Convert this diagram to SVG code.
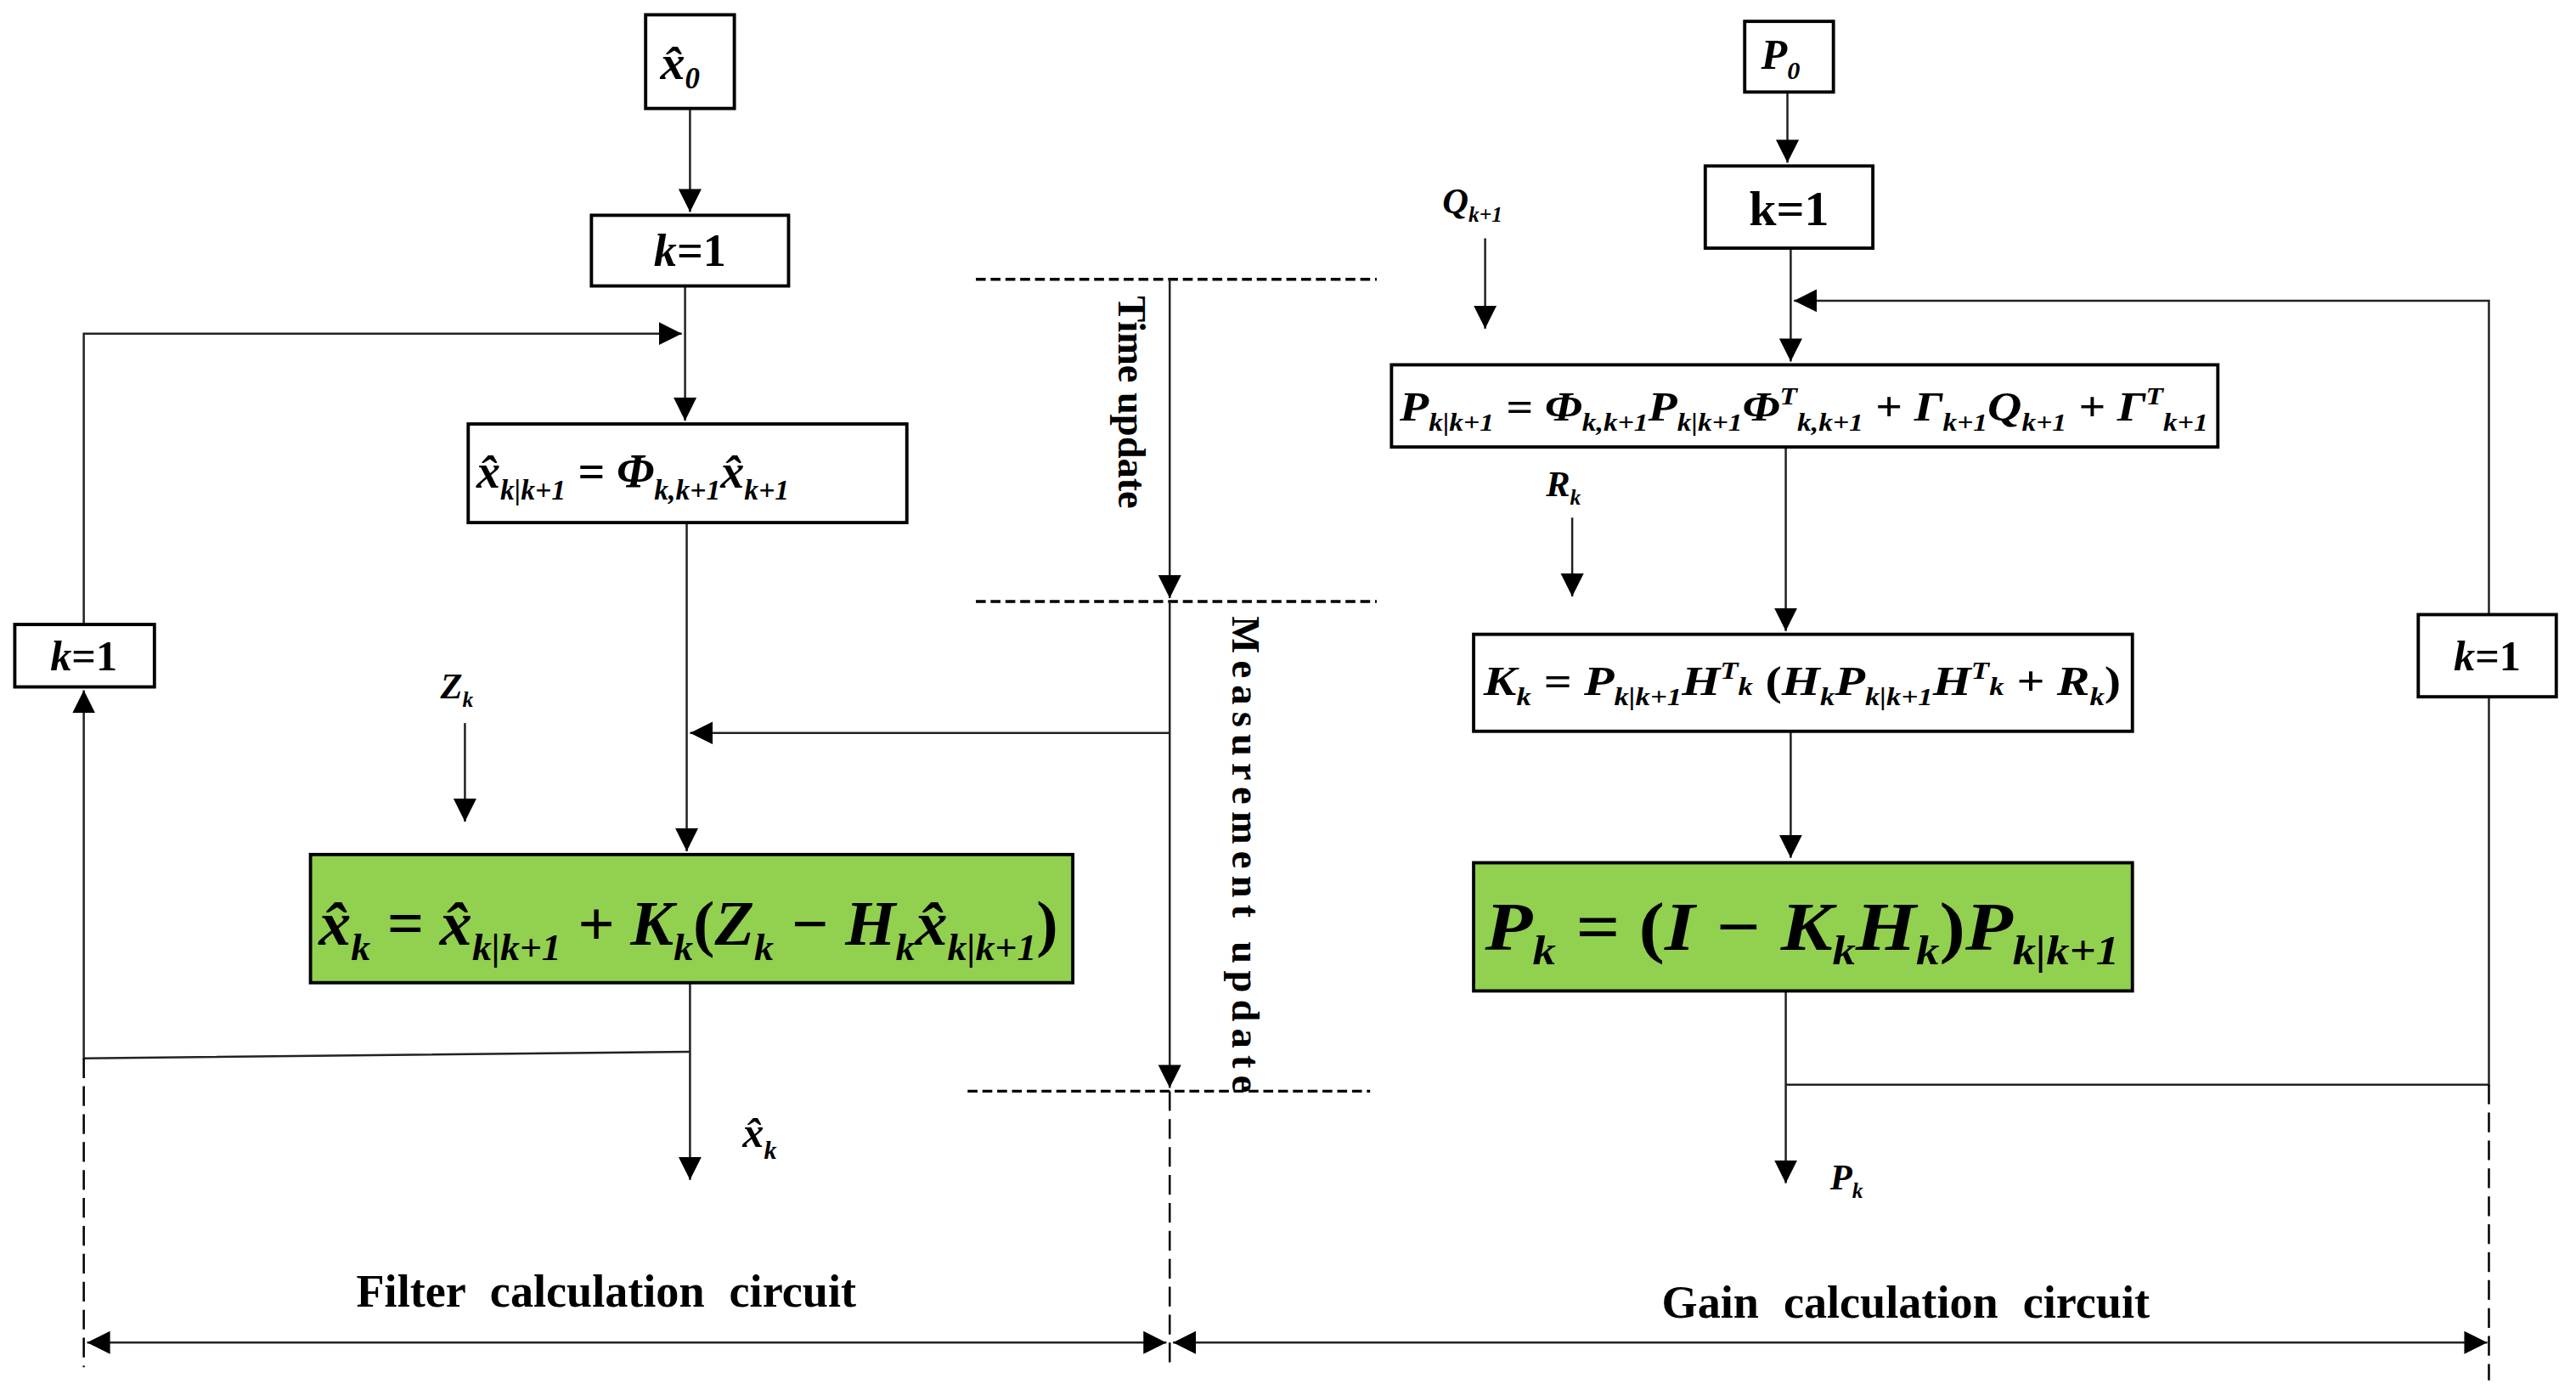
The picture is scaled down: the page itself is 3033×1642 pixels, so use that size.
<svg xmlns="http://www.w3.org/2000/svg" width="3033" height="1642" viewBox="0 0 3033 1642">
<style>
.bx{fill:#fff;stroke:#000;stroke-width:2}
.gb{fill:#92d050;stroke:#000;stroke-width:2}
.ln{stroke:#222;stroke-width:1.3;fill:none}
.dl{stroke:#000;stroke-width:1.8;fill:none;stroke-dasharray:6 3}
.dv{stroke:#000;stroke-width:1.3;fill:none;stroke-dasharray:12 5}
.m{font-family:"Liberation Serif",serif;font-style:italic;font-weight:bold;fill:#000}
.r{font-family:"Liberation Serif",serif;font-weight:bold;fill:#000}
.s{font-size:60%}
</style>
<defs>
<marker id="a" viewBox="0 0 10 10" refX="10" refY="5" markerWidth="14" markerHeight="22" markerUnits="userSpaceOnUse" orient="auto"><path d="M0,0L10,5L0,10z"/></marker>
<marker id="b" viewBox="0 0 10 10" refX="0" refY="5" markerWidth="14" markerHeight="22" markerUnits="userSpaceOnUse" orient="auto"><path d="M10,0L0,5L10,10z"/></marker>
</defs>
<rect width="3033" height="1642" fill="#fff"/>
<g transform="scale(1.9343)">
<g id="connectors">
<path class="ln" d="M420,66V129" marker-end="url(#a)"/>
<path class="ln" d="M417,174V256" marker-end="url(#a)"/>
<path class="ln" d="M51,380V203H415" marker-end="url(#a)"/>
<path class="ln" d="M418,318V518" marker-end="url(#a)"/>
<path class="ln" d="M283,440V500" marker-end="url(#a)"/>
<path class="ln" d="M712,446H420" marker-end="url(#a)"/>
<path class="ln" d="M420,598V718" marker-end="url(#a)"/>
<path class="ln" d="M420,640L51,644V420" marker-end="url(#a)"/>
<path class="dv" d="M51,644V832"/>
<path class="dl" d="M594,170H838M594,366H838M589,664H834"/>
<path class="ln" d="M712,170V364" marker-end="url(#a)"/>
<path class="ln" d="M712,366V662" marker-end="url(#a)"/>
<path class="dv" d="M712,664V830"/>
<path class="ln" d="M53,817H710" marker-start="url(#b)" marker-end="url(#a)"/>
<path class="ln" d="M714,817H1514" marker-start="url(#b)" marker-end="url(#a)"/>
<path class="ln" d="M1088,56V99" marker-end="url(#a)"/>
<path class="ln" d="M904,145V200" marker-end="url(#a)"/>
<path class="ln" d="M1090,151V220" marker-end="url(#a)"/>
<path class="ln" d="M1515,376V183H1092" marker-end="url(#a)"/>
<path class="ln" d="M957,315V363" marker-end="url(#a)"/>
<path class="ln" d="M1087,272V384" marker-end="url(#a)"/>
<path class="ln" d="M1090,445V522" marker-end="url(#a)"/>
<path class="ln" d="M1087,603V720" marker-end="url(#a)"/>
<path class="ln" d="M1087,660H1515V424"/>
<path class="dv" d="M1515,660V840"/>
</g>
<g id="x0"><rect class="bx" x="393" y="9" width="54" height="57"/><text class="m" x="402" y="48" font-size="30">x̂<tspan class="s" dy="6">0</tspan></text></g>
<g id="k1a"><rect class="bx" x="360" y="131" width="120" height="43"/><text class="m" x="420" y="162" font-size="28" text-anchor="middle">k<tspan font-style="normal">=1</tspan></text></g>
<g id="pred"><rect class="bx" x="285" y="258" width="267" height="60"/><text class="m" x="290" y="297" font-size="29">x̂<tspan class="s" dy="7">k|k+1</tspan><tspan dy="-7"> = Φ</tspan><tspan class="s" dy="7">k,k+1</tspan><tspan dy="-7">x̂</tspan><tspan class="s" dy="7">k+1</tspan></text></g>
<g id="k1l"><rect class="bx" x="9" y="380" width="85" height="38"/><text class="m" x="51" y="408" font-size="26" text-anchor="middle">k<tspan font-style="normal">=1</tspan></text></g>
<g id="zk"><text class="m" x="268" y="425" font-size="22">Z<tspan class="s" dy="5">k</tspan></text></g>
<g id="upd"><rect class="gb" x="189" y="520" width="464" height="78"/><text class="m" x="194" y="575" font-size="38" textLength="450" lengthAdjust="spacingAndGlyphs">x̂<tspan class="s" dy="9">k</tspan><tspan dy="-9"> = x̂</tspan><tspan class="s" dy="9">k|k+1</tspan><tspan dy="-9"> + K</tspan><tspan class="s" dy="9">k</tspan><tspan dy="-9" font-style="normal">(</tspan>Z<tspan class="s" dy="9">k</tspan><tspan dy="-9"> − H</tspan><tspan class="s" dy="9">k</tspan><tspan dy="-9">x̂</tspan><tspan class="s" dy="9">k|k+1</tspan><tspan dy="-9" font-style="normal">)</tspan></text></g>
<g id="xk"><text class="m" x="452" y="698" font-size="26">x̂<tspan class="s" dy="7">k</tspan></text></g>
<g id="tu"><text class="r" transform="translate(681,180) rotate(90)" font-size="24">Time update</text></g>
<g id="mu"><text class="r" transform="translate(750,375) rotate(90)" font-size="24" textLength="290">Measurement  update</text></g>
<g id="fc"><text class="r" x="369" y="795" font-size="28" text-anchor="middle" word-spacing="8">Filter calculation circuit</text></g>
<g id="gc"><text class="r" x="1160" y="802" font-size="28" text-anchor="middle" word-spacing="8">Gain calculation circuit</text></g>
<g id="p0"><rect class="bx" x="1062" y="13" width="54" height="43"/><text class="m" x="1072" y="42" font-size="26">P<tspan class="s" dy="6">0</tspan></text></g>
<g id="k1b"><rect class="bx" x="1038" y="101" width="102" height="50"/><text class="r" x="1089" y="137" font-size="30" text-anchor="middle">k=1</text></g>
<g id="q"><text class="m" x="878" y="130" font-size="22">Q<tspan class="s" dy="5">k+1</tspan></text></g>
<g id="pp"><rect class="bx" x="847" y="222" width="503" height="50"/><text class="m" x="852" y="256" font-size="25" textLength="492" lengthAdjust="spacingAndGlyphs">P<tspan class="s" dy="6">k|k+1</tspan><tspan dy="-6"> = Φ</tspan><tspan class="s" dy="6">k,k+1</tspan><tspan dy="-6">P</tspan><tspan class="s" dy="6">k|k+1</tspan><tspan dy="-6">Φ</tspan><tspan class="s" dy="-10">T</tspan><tspan class="s" dy="16">k,k+1</tspan><tspan dy="-6"> + Γ</tspan><tspan class="s" dy="6">k+1</tspan><tspan dy="-6">Q</tspan><tspan class="s" dy="6">k+1</tspan><tspan dy="-6"> + Γ</tspan><tspan class="s" dy="-10">T</tspan><tspan class="s" dy="16">k+1</tspan></text></g>
<g id="rk"><text class="m" x="941" y="302" font-size="22">R<tspan class="s" dy="5">k</tspan></text></g>
<g id="kk"><rect class="bx" x="897" y="386" width="401" height="59"/><text class="m" x="903" y="423" font-size="25" textLength="388" lengthAdjust="spacingAndGlyphs">K<tspan class="s" dy="6">k</tspan><tspan dy="-6"> = P</tspan><tspan class="s" dy="6">k|k+1</tspan><tspan dy="-6">H</tspan><tspan class="s" dy="-10">T</tspan><tspan class="s" dy="10">k</tspan><tspan font-style="normal"> (</tspan>H<tspan class="s" dy="6">k</tspan><tspan dy="-6">P</tspan><tspan class="s" dy="6">k|k+1</tspan><tspan dy="-6">H</tspan><tspan class="s" dy="-10">T</tspan><tspan class="s" dy="10">k</tspan><tspan> + R</tspan><tspan class="s" dy="6">k</tspan><tspan dy="-6" font-style="normal">)</tspan></text></g>
<g id="pk"><rect class="gb" x="897" y="525" width="401" height="78"/><text class="m" x="904" y="578" font-size="42" textLength="386" lengthAdjust="spacingAndGlyphs">P<tspan class="s" dy="9">k</tspan><tspan dy="-9"> = </tspan><tspan font-style="normal">(</tspan>I − K<tspan class="s" dy="9">k</tspan><tspan dy="-9">H</tspan><tspan class="s" dy="9">k</tspan><tspan dy="-9" font-style="normal">)</tspan>P<tspan class="s" dy="9">k|k+1</tspan></text></g>
<g id="pkl"><text class="m" x="1114" y="724" font-size="22">P<tspan class="s" dy="5">k</tspan></text></g>
<g id="k1r"><rect class="bx" x="1472" y="374" width="84" height="50"/><text class="m" x="1514" y="408" font-size="26" text-anchor="middle">k<tspan font-style="normal">=1</tspan></text></g>
</g>
</svg>
